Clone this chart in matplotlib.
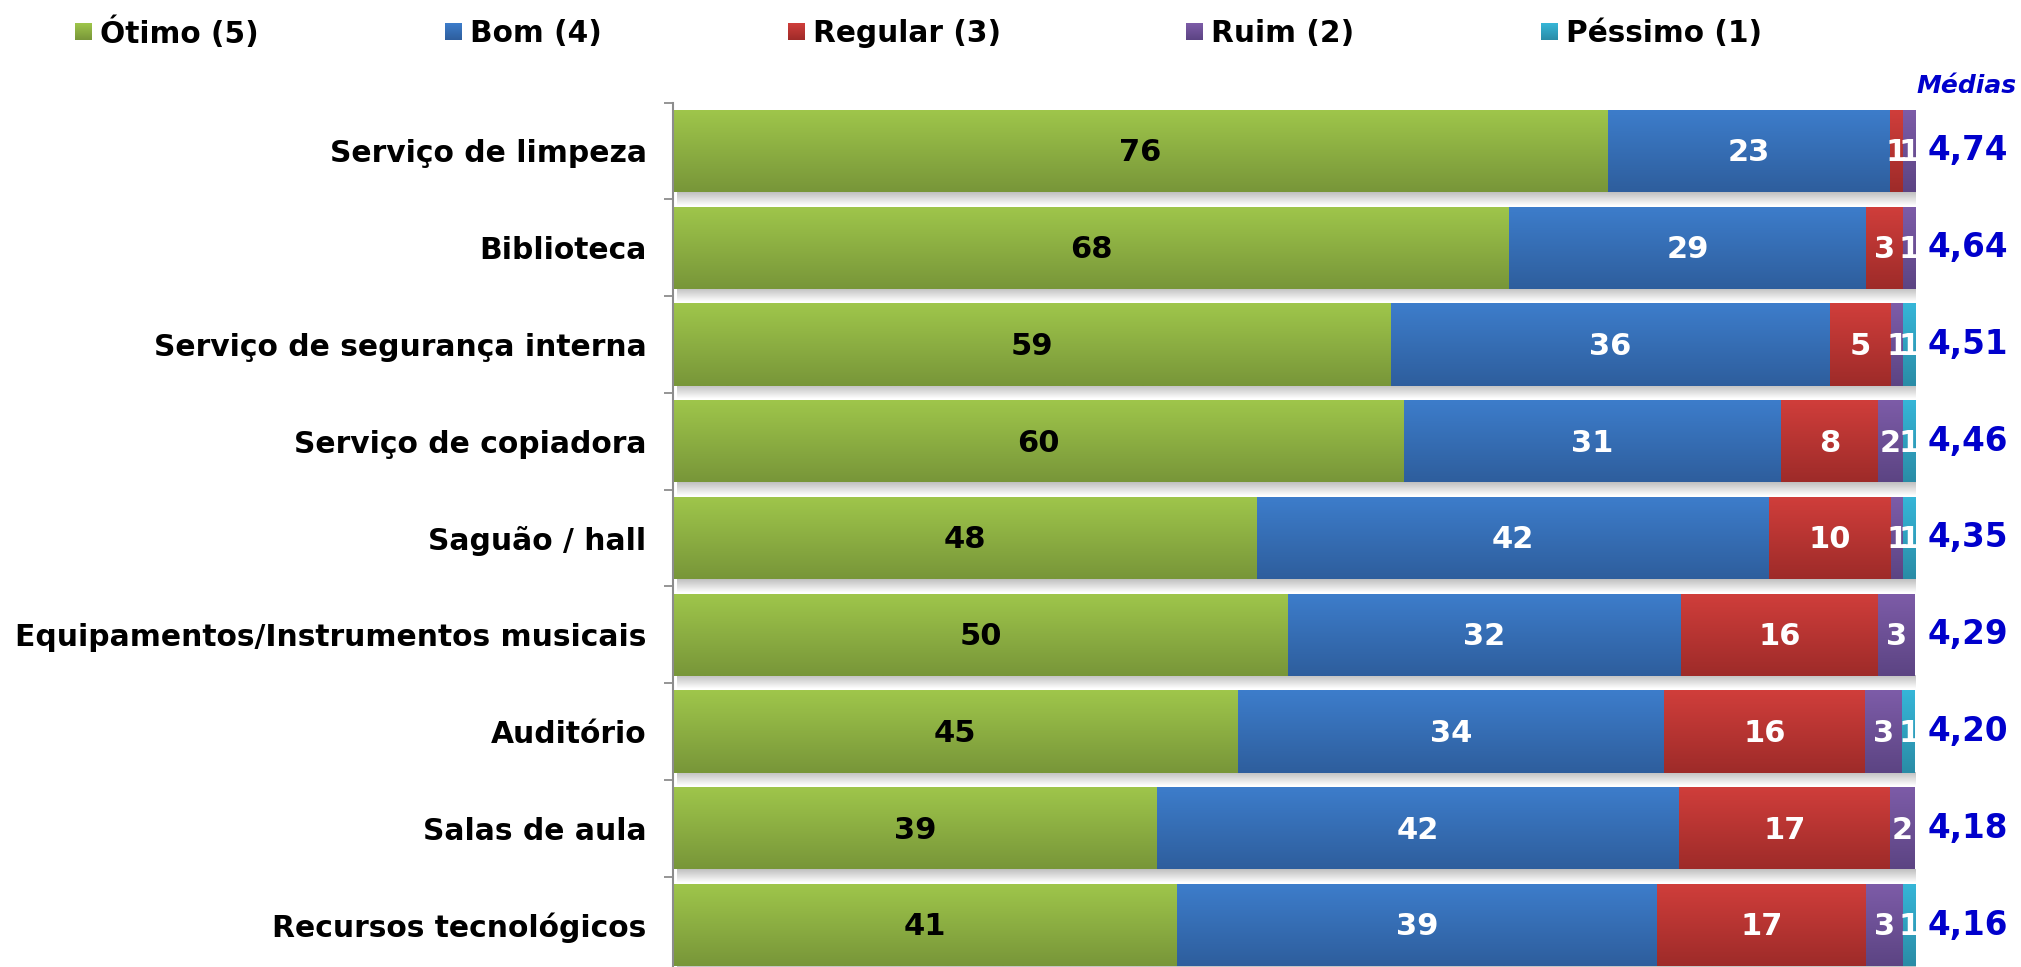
import numpy as np
import matplotlib.pyplot as plt
from matplotlib.colors import to_rgb

categorias = ["Serviço de limpeza", "Biblioteca", "Serviço de segurança interna",
              "Serviço de copiadora", "Saguão / hall", "Equipamentos/Instrumentos musicais",
              "Auditório", "Salas de aula", "Recursos tecnológicos"]
otimo = [76, 68, 59, 60, 48, 50, 45, 39, 41]
bom = [23, 29, 36, 31, 42, 32, 34, 42, 39]
regular = [1, 3, 5, 8, 10, 16, 16, 17, 17]
ruim = [1, 1, 1, 2, 1, 3, 3, 2, 3]
pessimo = [0, 0, 1, 1, 1, 0, 1, 0, 1]
medias = ["4,74", "4,64", "4,51", "4,46", "4,35", "4,29", "4,20", "4,18", "4,16"]

series = [("Ótimo (5)", otimo, "#9fc64b", "#789639", "black"),
          ("Bom (4)", bom, "#3d7dcb", "#2e5e9d", "white"),
          ("Regular (3)", regular, "#d03e3b", "#9e2b29", "white"),
          ("Ruim (2)", ruim, "#7d5ca8", "#5c4483", "white"),
          ("Péssimo (1)", pessimo, "#36b6d8", "#2a8ca6", "white")]

plt.rcParams['font.family'] = 'DejaVu Sans'
W, H = 2021, 967
fig = plt.figure(figsize=(W / 100, H / 100), dpi=100)
ax = fig.add_axes([673 / W, 1 - 973.4 / H, (1915 - 673) / W, 870.8 / H])

n = len(categorias)
y = np.arange(n)
totais = np.array([sum(s[1][i] for s in series) for i in range(n)], dtype=float)
bh = 0.85


def gradiente(c1, c2, m=64):
    a, b = np.array(to_rgb(c1)), np.array(to_rgb(c2))
    t = np.linspace(0, 1, m)[:, None]
    return (a * (1 - t) + b * t)[:, None, :]


# sombra sob as barras
sombra = np.zeros((32, 1, 4))
sombra[..., :3] = 0.45
sombra[:, 0, 3] = np.linspace(0.45, 0, 32)
for i in y:
    ax.imshow(sombra, extent=(0.3, 100.6, i + bh / 2 + 0.14, i + bh / 2), aspect='auto',
              origin='upper', zorder=1, interpolation='bilinear')

esq = np.zeros(n)
for nome, vals, c1, c2, cor_txt in series:
    larg = np.array(vals) / totais * 100
    barras = ax.barh(y, larg, left=esq, height=bh, color=c1, linewidth=0, zorder=2)
    img = gradiente(c1, c2)
    for i, r in enumerate(barras):
        if larg[i] <= 0:
            continue
        im = ax.imshow(img, extent=(esq[i], esq[i] + larg[i], i + bh / 2, i - bh / 2),
                       aspect='auto', origin='upper', zorder=3, interpolation='bilinear')
        im.set_clip_path(r)
        ax.text(esq[i] + larg[i] / 2, i + 0.02, str(vals[i]), ha='center', va='center',
                fontsize=22, fontweight='bold', color=cor_txt, zorder=5)
    esq += larg

ax.set_xlim(0, 100)
ax.set_ylim(n - 0.5, -0.5)
ax.set_xticks([])
ax.set_yticks(y)
ax.set_yticklabels(categorias, fontsize=21.4, fontweight='bold')
ax.set_yticks(np.arange(n + 1) - 0.5, minor=True)
ax.tick_params(axis='y', which='major', length=0, pad=19)
ax.tick_params(axis='y', which='minor', length=6.5, width=1.3, color='#8c8c8c')
for s in ['top', 'right', 'bottom']:
    ax.spines[s].set_visible(False)
ax.spines['left'].set_color('#8c8c8c')
ax.spines['left'].set_linewidth(1.5)
ax.spines['left'].set_zorder(6)

# médias
tr = ax.get_yaxis_transform()
for i, m in enumerate(medias):
    ax.text((1968 - 673) / 1242, i + 0.0, m, transform=tr, ha='center', va='center',
            fontsize=23.5, fontweight='bold', color='#0000cc', clip_on=False)
fig.text(2017 / W, 1 - 86 / H, "Médias", ha='right', va='center', fontsize=18,
         fontweight='bold', style='italic', color='#0000cc')

# legenda
pos_leg = [75, 445, 788, 1186, 1541]
for (nome, vals, c1, c2, _), x0 in zip(series, pos_leg):
    lax = fig.add_axes([x0 / W, 1 - 40 / H, 17 / W, 17 / H])
    lax.imshow(gradiente(c1, c2), aspect='auto', extent=(0, 1, 0, 1))
    lax.axis('off')
    fig.text((x0 + 25) / W, 1 - 33 / H, nome, ha='left', va='center', fontsize=21.3,
             fontweight='bold')

fig.savefig("out.png", dpi=100)
